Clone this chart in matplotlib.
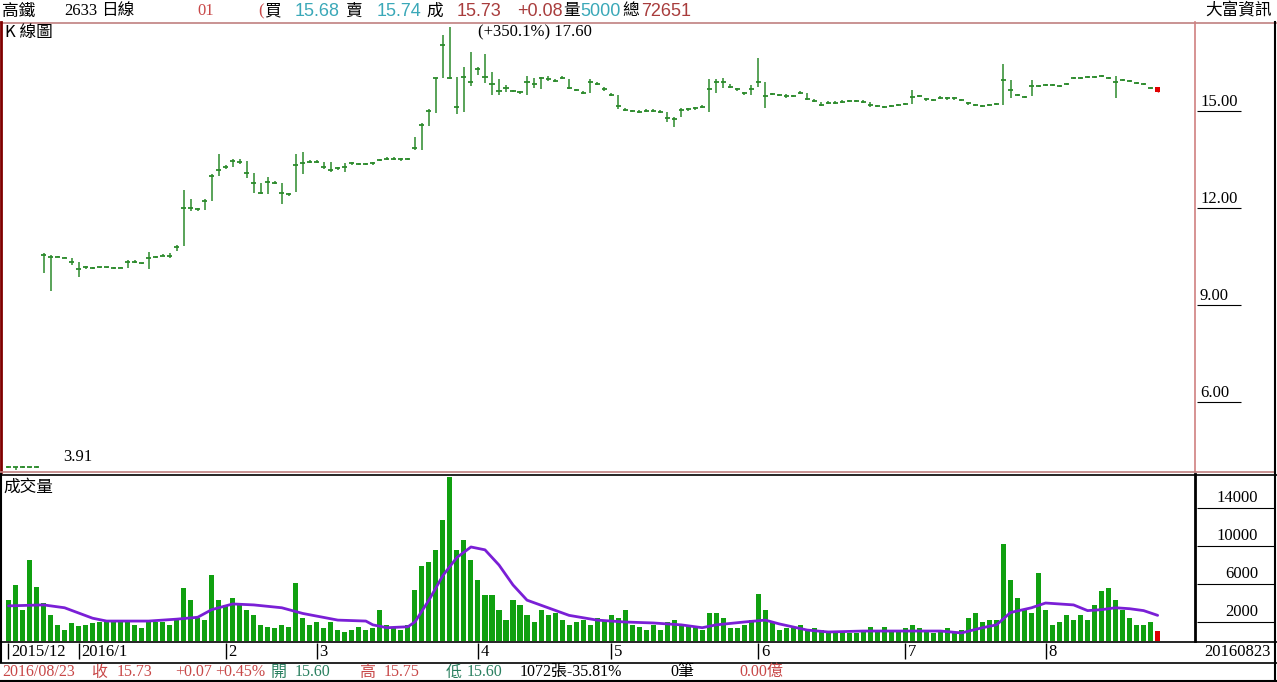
import numpy as np
import matplotlib
matplotlib.use("Agg")
import matplotlib.pyplot as plt

# daily bars, index 0 = first bar shown (2015/12)
closes = [3.99, 3.98, 3.99, 3.98, 3.99, 10.55, 10.49, 10.49, 10.46, 10.34,
          10.11, 10.17, 10.13, 10.17, 10.17, 10.14, 10.15, 10.34, 10.34, 10.29,
          10.44, 10.49, 10.53, 10.53, 10.78, 12.01, 12.01, 11.96, 12.22, 12.99,
          13.16, 13.28, 13.46, 13.43, 13.07, 12.78, 12.47, 12.81, 12.78, 12.45,
          12.42, 13.33, 13.38, 13.43, 13.43, 13.28, 13.17, 13.23, 13.28, 13.38,
          13.36, 13.36, 13.38, 13.48, 13.53, 13.53, 13.50, 13.53, 13.85, 14.57,
          15.01, 16.01, 17.04, 16.01, 15.11, 16.04, 15.91, 16.29, 16.06, 15.85,
          15.63, 15.70, 15.62, 15.58, 15.91, 15.85, 16.01, 15.98, 15.94, 16.03,
          15.70, 15.65, 15.57, 15.91, 15.85, 15.67, 15.49, 15.15, 15.03, 15.00,
          14.98, 15.01, 15.01, 14.98, 14.77, 14.74, 15.03, 15.05, 15.08, 15.13,
          15.67, 15.91, 15.91, 15.75, 15.67, 15.55, 15.67, 15.91, 15.45, 15.52,
          15.49, 15.46, 15.46, 15.57, 15.36, 15.32, 15.19, 15.26, 15.26, 15.29,
          15.31, 15.31, 15.29, 15.19, 15.15, 15.13, 15.15, 15.19, 15.22, 15.44,
          15.46, 15.36, 15.34, 15.41, 15.39, 15.39, 15.34, 15.24, 15.19, 15.15,
          15.19, 15.22, 15.96, 15.65, 15.49, 15.43, 15.77, 15.77, 15.80, 15.80,
          15.77, 15.84, 16.02, 16.02, 16.05, 16.05, 16.08, 16.02, 15.90, 15.96,
          15.93, 15.87, 15.84, 15.71, 15.73]
highs = [4.01, 3.99, 4.01, 3.99, 4.01, 10.62, 10.55, 10.51, 10.48, 10.45,
         10.34, 10.22, 10.16, 10.19, 10.19, 10.17, 10.17, 10.39, 10.39, 10.31,
         10.65, 10.53, 10.57, 10.60, 10.85, 12.56, 12.27, 12.00, 12.27, 13.04,
         13.67, 13.33, 13.50, 13.50, 13.46, 13.07, 12.78, 12.95, 12.82, 12.78,
         12.45, 13.67, 13.72, 13.47, 13.47, 13.43, 13.43, 13.27, 13.38, 13.42,
         13.40, 13.40, 13.42, 13.52, 13.57, 13.57, 13.54, 13.56, 14.19, 14.62,
         15.05, 16.01, 17.35, 17.60, 16.06, 16.37, 16.82, 16.37, 16.76, 16.22,
         15.98, 15.80, 15.66, 15.62, 16.08, 16.03, 16.05, 16.08, 15.98, 16.07,
         15.98, 15.69, 15.61, 16.00, 15.89, 15.75, 15.55, 15.49, 15.10, 15.04,
         15.02, 15.05, 15.05, 15.02, 14.98, 14.82, 15.10, 15.09, 15.12, 15.20,
         15.98, 15.98, 16.03, 15.85, 15.71, 15.59, 15.80, 16.63, 15.91, 15.56,
         15.53, 15.52, 15.50, 15.61, 15.57, 15.36, 15.27, 15.30, 15.30, 15.33,
         15.35, 15.35, 15.33, 15.29, 15.19, 15.17, 15.19, 15.23, 15.26, 15.65,
         15.50, 15.40, 15.38, 15.45, 15.43, 15.43, 15.38, 15.28, 15.23, 15.19,
         15.23, 15.26, 16.45, 15.96, 15.53, 15.47, 15.96, 15.81, 15.84, 15.84,
         15.81, 15.88, 16.06, 16.06, 16.09, 16.09, 16.12, 16.06, 16.08, 16.00,
         15.97, 15.91, 15.88, 15.75, 15.75]
lows = [3.97, 3.91, 3.97, 3.96, 3.97, 10.00, 9.44, 10.47, 10.44, 10.23,
        9.86, 10.10, 10.10, 10.14, 10.14, 10.12, 10.13, 10.15, 10.30, 10.26,
        10.10, 10.45, 10.50, 10.44, 10.66, 10.82, 11.91, 11.90, 11.93, 12.22,
        13.00, 13.20, 13.28, 13.35, 12.92, 12.47, 12.42, 12.43, 12.74, 12.11,
        12.38, 12.50, 13.05, 13.38, 13.38, 13.20, 13.10, 13.18, 13.10, 13.33,
        13.32, 13.32, 13.34, 13.44, 13.49, 13.49, 13.46, 13.48, 13.79, 13.78,
        14.54, 14.95, 16.01, 15.98, 14.90, 14.98, 15.77, 16.11, 15.88, 15.49,
        15.49, 15.60, 15.58, 15.54, 15.49, 15.70, 15.68, 15.94, 15.90, 15.99,
        15.68, 15.61, 15.53, 15.55, 15.81, 15.63, 15.45, 15.05, 14.99, 14.96,
        14.94, 14.97, 14.97, 14.94, 14.67, 14.50, 14.82, 15.01, 15.04, 15.08,
        14.98, 15.55, 15.70, 15.71, 15.63, 15.51, 15.50, 15.75, 15.08, 15.48,
        15.45, 15.40, 15.42, 15.53, 15.33, 15.28, 15.15, 15.22, 15.22, 15.25,
        15.27, 15.27, 15.25, 15.12, 15.11, 15.09, 15.11, 15.15, 15.18, 15.22,
        15.42, 15.32, 15.30, 15.37, 15.35, 15.35, 15.30, 15.20, 15.15, 15.11,
        15.15, 15.18, 15.19, 15.40, 15.45, 15.39, 15.46, 15.73, 15.76, 15.76,
        15.73, 15.80, 15.98, 15.98, 16.01, 16.01, 16.04, 15.98, 15.40, 15.92,
        15.89, 15.83, 15.80, 15.67, 15.60]
last_open = 15.60

volumes = [4300, 5900, 3300, 8500, 5700, 4000, 2700, 1700, 1200, 1900,
           1600, 1700, 1900, 2000, 2200, 2000, 2100, 2100, 1700, 1400,
           2200, 2000, 2000, 1700, 2200, 5600, 4300, 2400, 2200, 6900,
           4300, 3800, 4500, 3800, 3300, 2700, 1700, 1500, 1400, 1700,
           1500, 6100, 2400, 1700, 2000, 1400, 2000, 1200, 950, 1200,
           1500, 1200, 1400, 3300, 1700, 1400, 1200, 1700, 5400, 7900,
           8300, 9600, 12700, 17300, 9600, 10600, 8500, 6400, 4800, 4800,
           3300, 2200, 4300, 3800, 2700, 2000, 3300, 2700, 3000, 2200,
           1700, 2000, 2200, 1700, 2400, 2200, 2700, 2400, 3300, 1700,
           1500, 1200, 1700, 1200, 2000, 2200, 1700, 1700, 1500, 1200,
           2900, 2900, 2400, 1400, 1400, 1700, 2200, 4900, 3300, 2000,
           1200, 1400, 1400, 1700, 1200, 1400, 1200, 950, 850, 950,
           850, 850, 950, 1500, 1200, 1500, 1200, 950, 1400, 1700,
           1400, 1200, 850, 950, 1400, 950, 1200, 2400, 3000, 2000,
           2200, 2200, 10200, 6400, 4500, 3300, 2900, 7200, 3300, 1700,
           2000, 2700, 2200, 2700, 2200, 3800, 5300, 5600, 4300, 3300,
           2400, 1700, 1700, 2000, 1072]

# volume average line, read at these bar positions
ma_idx = [0, 5, 8, 12, 14, 20, 24, 27, 29, 32, 35, 39, 42, 47, 51, 52, 54, 57,
          58, 60, 62, 64, 66, 68, 70, 72, 74, 77, 80, 84, 88, 92, 96, 99, 101,
          105, 108, 110, 114, 117, 122, 128, 133, 136, 139, 141, 143, 146, 148,
          150, 152, 154, 156, 158, 160, 162, 164]
ma_vals = [3700, 3800, 3500, 2400, 2100, 2100, 2300, 2500, 3300, 3900, 3800,
           3500, 2900, 2200, 2100, 1700, 1400, 1500, 2000, 4300, 6900, 8800,
           9900, 9600, 8000, 5900, 4300, 3500, 2700, 2200, 2000, 1900, 1700,
           1400, 1700, 2000, 2200, 1800, 1150, 950, 1050, 1050, 1050, 850,
           1400, 1700, 3000, 3500, 4000, 3900, 3800, 3200, 3300, 3500, 3400,
           3200, 2700]

month_idx = [0, 10, 31, 44, 67, 86, 107, 128, 148]
month_labels = ['2015/12', '2016/1', '2', '3', '4', '5', '6', '7', '8']

price_ticks = [6, 9, 12, 15]
vol_ticks = [2000, 6000, 10000, 14000]

W, H = 1277, 682
fam = ['Liberation Serif', 'Noto Sans CJK TC']
cjk = ['Noto Sans CJK TC', 'Liberation Sans']
sans = ['Liberation Sans', 'Noto Sans CJK TC']
green = '#2b8a2b'
vgreen = '#10a010'
red = '#c84848'
cyan = '#3aa8b8'
teal = '#2a8060'

fig = plt.figure(figsize=(W / 100, H / 100), dpi=100)

# background layer in pixel coordinates
bg = fig.add_axes([0, 0, 1, 1])
bg.set_xlim(0, W)
bg.set_ylim(H, 0)
bg.axis('off')

def fy(y):
    return 1 - y / H

xl = (-1.213, 169.33)
px = 1195 / W

ax = fig.add_axes([0, fy(472), px, 450 / H])
ax.set_xlim(*xl)
ax.set_ylim(3.834, 17.753)
ax.axis('off')

axv = fig.add_axes([0, fy(641), px, 167 / H])
axv.set_xlim(*xl)
axv.set_ylim(0, 17585)
axv.axis('off')

axr = fig.add_axes([px, fy(472), 82 / W, 450 / H])
axr.set_xlim(0, 82)
axr.set_ylim(3.834, 17.753)
axr.axis('off')

axvr = fig.add_axes([px, fy(641), 82 / W, 167 / H])
axvr.set_xlim(0, 82)
axvr.set_ylim(0, 17585)
axvr.axis('off')

axd = fig.add_axes([0, fy(662), px, 21 / H])
axd.set_xlim(*xl)
axd.set_ylim(0, 1)
axd.axis('off')

# candles
x = np.arange(len(closes))
n = len(closes)
ax.vlines(x[:-1], lows[:-1], highs[:-1], color=green, lw=1.1)
ax.hlines(closes[:-1], x[:-1] - 0.36, x[:-1] + 0.36, color=green, lw=1.3)
ax.bar(x[-1], closes[-1] - last_open, bottom=last_open, width=0.7, color='#e00000')
ax.vlines(x[-1], lows[-1], highs[-1], color='#e00000', lw=1.0)

imax = int(np.argmax(highs))
imin = int(np.argmin(lows))
pct = (highs[imax] - lows[imin]) / lows[imin] * 100
ax.text(imax + 4, highs[imax] - 0.16, f'(+{pct:.1f}%) {highs[imax]:.2f}', family=fam,
        fontsize=12, va='center', ha='left')
ax.text(imin + 6.8, lows[imin] + 0.38, f'{lows[imin]:.2f}', family=fam,
        fontsize=12, va='center', ha='left')

# volume
vcol = [vgreen] * (n - 1) + ['#e00000']
axv.bar(x, volumes, width=0.72, color=vcol)
axv.plot(ma_idx, ma_vals, color='#7a1fd6', lw=2.0, solid_capstyle='round')

# right scales
for t in price_ticks:
    axr.hlines(t, 2, 46, color='black', lw=0.8)
    axr.text(5, t + 0.04, f'{t:.2f}', family=fam, fontsize=12, va='bottom', ha='left')
for t in vol_ticks:
    axvr.hlines(t, 2, 80, color='black', lw=0.8)
    axvr.text(63, t + 250, f'{t}', family=fam, fontsize=12, va='bottom', ha='right')

# month axis
for i, lab in zip(month_idx, month_labels):
    axd.vlines(i, 0.12, 0.92, color='black', lw=1.0)
    axd.text(i + 0.4, 0.48, lab, family=fam, fontsize=12, va='center', ha='left')

# panel borders
bg.plot([0, W], [22.5, 22.5], color='#c08080', lw=1.2)
bg.plot([1, 1], [22, 472], color='#800000', lw=2)
bg.plot([1195, 1195], [22, 472], color='#d08080', lw=1.2)
bg.plot([0, 1275], [472, 472], color='#c08080', lw=1.2)
bg.plot([0, W], [474.5, 474.5], color='black', lw=1.2)
bg.plot([1195, 1195], [474, 641], color='black', lw=2)
bg.plot([1, 1], [474, 662], color='black', lw=1.5)
bg.plot([1275, 1275], [22, 682], color='black', lw=1.5)
bg.plot([0, W], [641.5, 641.5], color='black', lw=1.2)
bg.plot([0, W], [662.5, 662.5], color='black', lw=1.2)
bg.plot([0, W], [681, 681], color='black', lw=1.5)

# header
hdr = [(2, '高鐵', 'black', cjk), (64, '2633', 'black', fam), (101, '日線', 'black', cjk),
       (197, '01', red, fam), (258, '(', red, fam), (264, '買', 'black', cjk),
       (295, '15.68', cyan, sans), (345, '賣', 'black', cjk), (377, '15.74', cyan, sans),
       (426, '成', 'black', cjk), (457, '15.73', '#a83c3c', sans),
       (517, '+0.08', '#a83c3c', sans), (563, '量', 'black', cjk),
       (580, '5000', cyan, sans), (622, '總', 'black', cjk), (641, '72651', '#a83c3c', sans)]
for xx, s, c, f in hdr:
    fs = 13 if f is sans else 12
    bg.text(xx, 11, s, color=c, family=f, fontsize=fs, va='center', ha='left')
bg.text(1272, 11, '大富資訊', family=cjk, fontsize=12, va='center', ha='right')

bg.text(5, 33, 'K 線圖', family=cjk, fontsize=12, va='center', ha='left')
bg.text(3, 487, '成交量', family=cjk, fontsize=12, va='center', ha='left')
bg.text(1271, 652, '20160823', family=fam, fontsize=12, va='center', ha='right')

# footer
ftr = [(2, '2016/08/23', red, fam), (91, '收', red, cjk), (117, '15.73', red, fam),
       (175, '+0.07', red, fam), (215, '+0.45%', red, fam), (271, '開', teal, cjk),
       (295, '15.60', teal, fam), (359, '高', red, cjk), (384, '15.75', red, fam),
       (446, '低', teal, cjk), (467, '15.60', teal, fam),
       (520, '1072張-35.81%', 'black', fam), (670, '0筆', 'black', fam),
       (739, '0.00億', red, fam)]
for xx, s, c, f in ftr:
    bg.text(xx, 672, s, color=c, family=f, fontsize=11.5, va='center', ha='left')

fig.savefig('out.png', dpi=100)
